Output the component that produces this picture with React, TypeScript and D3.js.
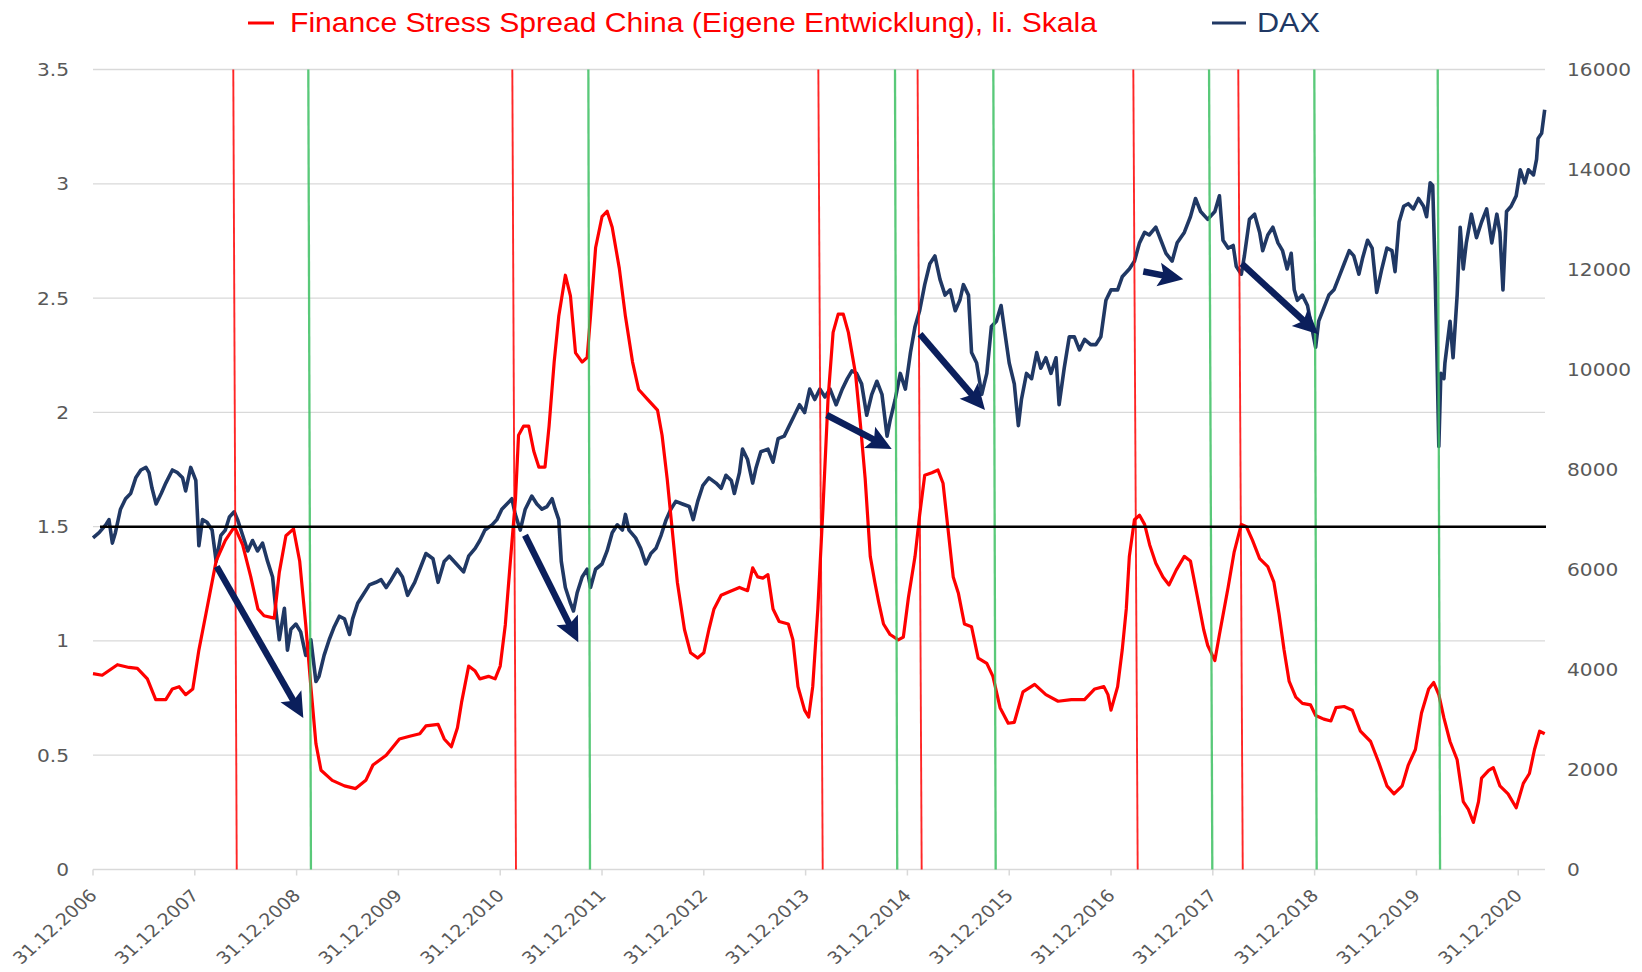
import React from "react";
import * as d3 from "d3";

// ---------- data (time in years since 31.12.2006) ----------
const leftTicks = [0, 0.5, 1, 1.5, 2, 2.5, 3, 3.5];
const rightTicks = [0, 2000, 4000, 6000, 8000, 10000, 12000, 14000, 16000];
const yearLabels = [2006, 2007, 2008, 2009, 2010, 2011, 2012, 2013, 2014, 2015, 2016, 2017, 2018, 2019, 2020];
const xEndYears = 14.263;
const threshold = 1.5;

const legendFss = "Finance Stress Spread China (Eigene Entwicklung), li. Skala";
const legendDax = "DAX";

// Finance Stress Spread China [years, value]
const fssSeries: [number, number][] = [
  [0.0, 0.857], [0.09, 0.85], [0.24, 0.896], [0.354, 0.884], [0.436, 0.88], [0.534, 0.834], [0.616, 0.743],
  [0.715, 0.743], [0.78, 0.79], [0.846, 0.8], [0.91, 0.765], [0.98, 0.79], [1.04, 0.96], [1.11, 1.12],
  [1.21, 1.35], [1.3, 1.44], [1.39, 1.5], [1.47, 1.42], [1.55, 1.28], [1.62, 1.14], [1.68, 1.11], [1.78, 1.1],
  [1.83, 1.3], [1.895, 1.46], [1.97, 1.49], [2.03, 1.35], [2.09, 1.07], [2.14, 0.8], [2.19, 0.55], [2.24, 0.434],
  [2.35, 0.39], [2.47, 0.366], [2.58, 0.354], [2.68, 0.39], [2.75, 0.457], [2.88, 0.5], [3.01, 0.571],
  [3.11, 0.583], [3.21, 0.594], [3.27, 0.628], [3.39, 0.635], [3.45, 0.571], [3.52, 0.537], [3.58, 0.62],
  [3.62, 0.73], [3.69, 0.89], [3.754, 0.868], [3.8, 0.834], [3.885, 0.845], [3.95, 0.834], [4.0, 0.89],
  [4.05, 1.07], [4.1, 1.35], [4.15, 1.62], [4.18, 1.9], [4.23, 1.94], [4.28, 1.94], [4.33, 1.83], [4.38, 1.76],
  [4.44, 1.76], [4.48, 1.94], [4.53, 2.22], [4.575, 2.42], [4.64, 2.6], [4.69, 2.51], [4.74, 2.26],
  [4.805, 2.22], [4.854, 2.24], [4.887, 2.42], [4.937, 2.72], [5.0, 2.856], [5.05, 2.88], [5.1, 2.81],
  [5.17, 2.63], [5.23, 2.42], [5.3, 2.22], [5.36, 2.1], [5.45, 2.056], [5.545, 2.01], [5.59, 1.9], [5.64, 1.71],
  [5.69, 1.485], [5.74, 1.257], [5.81, 1.05], [5.87, 0.948], [5.94, 0.925], [6.0, 0.948], [6.05, 1.05],
  [6.1, 1.14], [6.17, 1.2], [6.25, 1.215], [6.35, 1.234], [6.43, 1.22], [6.48, 1.32], [6.53, 1.28],
  [6.58, 1.275], [6.63, 1.29], [6.68, 1.14], [6.74, 1.085], [6.83, 1.074], [6.875, 1.005], [6.925, 0.8],
  [6.99, 0.697], [7.03, 0.667], [7.07, 0.8], [7.12, 1.14], [7.17, 1.576], [7.22, 2.056], [7.27, 2.35],
  [7.32, 2.43], [7.37, 2.43], [7.42, 2.35], [7.49, 2.17], [7.54, 1.94], [7.585, 1.71], [7.635, 1.37],
  [7.68, 1.257], [7.72, 1.165], [7.765, 1.074], [7.83, 1.028], [7.91, 1.005], [7.96, 1.017], [8.01, 1.19],
  [8.075, 1.37], [8.12, 1.55], [8.17, 1.725], [8.24, 1.736], [8.3, 1.748], [8.35, 1.69], [8.4, 1.485],
  [8.45, 1.28], [8.5, 1.21], [8.56, 1.074], [8.63, 1.062], [8.695, 0.925], [8.78, 0.902], [8.84, 0.845],
  [8.91, 0.708], [8.99, 0.64], [9.05, 0.644], [9.135, 0.777], [9.25, 0.81], [9.36, 0.765], [9.48, 0.736],
  [9.61, 0.743], [9.74, 0.743], [9.84, 0.79], [9.93, 0.8], [9.97, 0.765], [10.0, 0.697], [10.065, 0.8],
  [10.11, 0.96], [10.15, 1.14], [10.18, 1.37], [10.23, 1.53], [10.28, 1.55], [10.33, 1.51], [10.38, 1.42],
  [10.44, 1.34], [10.51, 1.28], [10.57, 1.245], [10.64, 1.31], [10.72, 1.37], [10.78, 1.35], [10.85, 1.19],
  [10.91, 1.05], [10.95, 0.98], [11.02, 0.914], [11.065, 1.028], [11.15, 1.234], [11.21, 1.39], [11.28, 1.51],
  [11.33, 1.5], [11.39, 1.44], [11.46, 1.36], [11.54, 1.325], [11.6, 1.257], [11.65, 1.12], [11.7, 0.96],
  [11.75, 0.823], [11.815, 0.754], [11.88, 0.727], [11.96, 0.72], [12.01, 0.674], [12.09, 0.658],
  [12.16, 0.65], [12.21, 0.708], [12.29, 0.713], [12.37, 0.697], [12.45, 0.605], [12.55, 0.56], [12.63, 0.468],
  [12.71, 0.366], [12.78, 0.331], [12.86, 0.366], [12.92, 0.457], [12.99, 0.525], [13.05, 0.685], [13.12, 0.79],
  [13.17, 0.818], [13.22, 0.765], [13.27, 0.663], [13.33, 0.56], [13.4, 0.48], [13.46, 0.297], [13.51, 0.263],
  [13.56, 0.206], [13.61, 0.297], [13.64, 0.4], [13.71, 0.434], [13.755, 0.446], [13.82, 0.366], [13.9, 0.331],
  [13.98, 0.27], [14.05, 0.377], [14.11, 0.42], [14.16, 0.525], [14.21, 0.605], [14.26, 0.594],
];

// DAX [years, points]
const daxSeries: [number, number][] = [
  [0.0, 6632], [0.06, 6736], [0.125, 6893], [0.157, 6997], [0.19, 6528], [0.22, 6736], [0.27, 7206],
  [0.32, 7415], [0.37, 7520], [0.42, 7833], [0.47, 7990], [0.52, 8042], [0.55, 7937], [0.58, 7624],
  [0.62, 7311], [0.67, 7520], [0.715, 7728], [0.78, 7990], [0.83, 7937], [0.88, 7833], [0.91, 7572],
  [0.96, 8042], [1.01, 7781], [1.04, 6475], [1.075, 6997], [1.12, 6945], [1.17, 6789], [1.21, 6162],
  [1.256, 6684], [1.3, 6789], [1.34, 7050], [1.387, 7154], [1.42, 6997], [1.47, 6684], [1.52, 6371],
  [1.567, 6580], [1.616, 6371], [1.665, 6528], [1.715, 6162], [1.764, 5849], [1.8, 5118], [1.83, 4595],
  [1.88, 5222], [1.91, 4386], [1.944, 4804], [1.993, 4909], [2.04, 4752], [2.09, 4282], [2.14, 4595],
  [2.19, 3760], [2.22, 3864], [2.27, 4282], [2.32, 4595], [2.37, 4856], [2.42, 5065], [2.47, 5013],
  [2.52, 4700], [2.55, 5013], [2.6, 5326], [2.65, 5483], [2.715, 5692], [2.78, 5744], [2.83, 5796],
  [2.88, 5640], [2.93, 5796], [2.99, 6005], [3.04, 5849], [3.09, 5483], [3.16, 5744], [3.21, 6005],
  [3.27, 6319], [3.34, 6214], [3.39, 5744], [3.45, 6162], [3.5, 6266], [3.57, 6110], [3.64, 5953],
  [3.69, 6266], [3.754, 6423], [3.8, 6580], [3.85, 6789], [3.92, 6893], [3.967, 6997], [4.016, 7206],
  [4.066, 7311], [4.115, 7415], [4.148, 7102], [4.197, 6789], [4.246, 7206], [4.31, 7468], [4.36, 7311],
  [4.41, 7206], [4.46, 7259], [4.51, 7415], [4.54, 7206], [4.575, 6997], [4.6, 6162], [4.64, 5640],
  [4.69, 5326], [4.72, 5170], [4.756, 5535], [4.805, 5849], [4.854, 6005], [4.887, 5640], [4.937, 6005],
  [5.0, 6110], [5.05, 6371], [5.1, 6736], [5.15, 6893], [5.2, 6789], [5.23, 7102], [5.265, 6789],
  [5.33, 6632], [5.38, 6423], [5.43, 6110], [5.48, 6319], [5.53, 6423], [5.58, 6684], [5.63, 6997],
  [5.676, 7206], [5.725, 7363], [5.79, 7311], [5.857, 7259], [5.896, 6997], [5.94, 7363], [5.99, 7676],
  [6.05, 7833], [6.12, 7728], [6.17, 7624], [6.218, 7885], [6.27, 7781], [6.3, 7520], [6.35, 7937],
  [6.38, 8407], [6.43, 8199], [6.48, 7728], [6.514, 8042], [6.56, 8355], [6.63, 8407], [6.68, 8146],
  [6.73, 8616], [6.79, 8668], [6.84, 8877], [6.89, 9086], [6.94, 9295], [6.99, 9139], [7.04, 9608],
  [7.09, 9400], [7.14, 9608], [7.19, 9452], [7.24, 9608], [7.3, 9295], [7.36, 9608], [7.41, 9817],
  [7.455, 9974], [7.5, 9922], [7.55, 9713], [7.6, 9086], [7.65, 9504], [7.7, 9765], [7.75, 9504],
  [7.8, 8668], [7.83, 8982], [7.88, 9400], [7.93, 9922], [7.98, 9608], [8.03, 10340], [8.075, 10862],
  [8.12, 11175], [8.17, 11697], [8.22, 12115], [8.27, 12272], [8.32, 11802], [8.37, 11488], [8.42, 11593],
  [8.47, 11175], [8.515, 11384], [8.55, 11697], [8.6, 11488], [8.63, 10340], [8.68, 10130], [8.73, 9504],
  [8.78, 9922], [8.825, 10862], [8.874, 10966], [8.92, 11280], [8.956, 10757], [9.0, 10130], [9.05, 9713],
  [9.09, 8877], [9.12, 9400], [9.17, 9922], [9.22, 9817], [9.27, 10340], [9.31, 10026], [9.36, 10235],
  [9.41, 9922], [9.46, 10235], [9.49, 9295], [9.54, 10026], [9.59, 10653], [9.64, 10653], [9.69, 10392],
  [9.74, 10601], [9.8, 10497], [9.85, 10497], [9.9, 10653], [9.95, 11384], [10.0, 11593], [10.065, 11593],
  [10.11, 11854], [10.18, 12011], [10.23, 12167], [10.28, 12533], [10.33, 12742], [10.375, 12690],
  [10.44, 12846], [10.49, 12585], [10.54, 12324], [10.6, 12167], [10.65, 12533], [10.72, 12742],
  [10.78, 13055], [10.83, 13420], [10.88, 13160], [10.95, 13003], [11.02, 13160], [11.065, 13473],
  [11.1, 12585], [11.15, 12428], [11.2, 12480], [11.23, 12063], [11.28, 11906], [11.31, 12272],
  [11.36, 13003], [11.41, 13107], [11.46, 12742], [11.49, 12376], [11.54, 12690], [11.59, 12846],
  [11.64, 12533], [11.685, 12376], [11.73, 12011], [11.77, 12324], [11.8, 11593], [11.83, 11384],
  [11.88, 11488], [11.93, 11280], [11.98, 10757], [12.01, 10444], [12.04, 10966], [12.09, 11227],
  [12.14, 11488], [12.19, 11593], [12.24, 11854], [12.29, 12115], [12.34, 12376], [12.385, 12272],
  [12.435, 11906], [12.47, 12219], [12.52, 12585], [12.565, 12428], [12.61, 11541], [12.66, 12011],
  [12.71, 12428], [12.76, 12376], [12.79, 11958], [12.83, 12950], [12.875, 13264], [12.92, 13316],
  [12.97, 13211], [13.02, 13420], [13.07, 13264], [13.1, 13055], [13.135, 13734], [13.16, 13681],
  [13.18, 12219], [13.2, 10444], [13.22, 8460], [13.24, 9922], [13.27, 9817], [13.28, 10130], [13.33, 10966],
  [13.36, 10235], [13.4, 11488], [13.43, 12846], [13.46, 12011], [13.49, 12533], [13.54, 13107],
  [13.59, 12637], [13.64, 12950], [13.69, 13211], [13.74, 12533], [13.79, 13107], [13.82, 12742],
  [13.85, 11593], [13.885, 13160], [13.93, 13264], [13.98, 13473], [14.02, 13995], [14.065, 13734],
  [14.1, 13995], [14.15, 13891], [14.18, 14204], [14.195, 14622], [14.23, 14726], [14.26, 15196],
];

// signal markers [years at top, years at bottom]
const stressSignals: [number, number][] = [
  [1.378, 1.412], [4.119, 4.155], [7.125, 7.168], [8.1, 8.14], [10.219, 10.262], [11.25, 11.294],
];
const reliefSignals: [number, number][] = [
  [2.115, 2.141], [4.866, 4.882], [7.878, 7.9], [8.844, 8.867], [10.963, 10.995], [11.997, 12.02], [13.209, 13.232],
];

// arrows [years start, DAX start, years end, DAX end]
const daxArrows: [number, number, number, number][] = [
  [1.215, 6060, 2.066, 3030],
  [4.244, 6686, 4.767, 4546],
  [7.207, 9090, 7.846, 8410],
  [8.124, 10706, 8.762, 9192],
  [10.317, 11960, 10.71, 11804],
  [11.284, 12116, 12.036, 10706],
];

// ---------- helpers ----------
const base = new Date(2006, 11, 31);
const toDate = (t: number) => new Date(base.getTime() + t * 365.25 * 864e5);

const RED = "#FF0000";
const NAVY = "#203864";
const ARROW = "#0B1F5C";
const GRID = "#D9D9D9";
const LABEL = "#595959";
const GREEN = "#3CC062";

export default function App() {
  const x = d3.scaleTime().domain([toDate(0), toDate(xEndYears)]).range([93, 1545]);
  const yL = d3.scaleLinear().domain([0, 3.5]).range([869.5, 69.5]);
  const yR = d3.scaleLinear().domain([0, 16000]).range([869.5, 69.5]);

  const fssLine = d3
    .line<[number, number]>()
    .x((d) => x(toDate(d[0])))
    .y((d) => yL(d[1]));
  const daxLine = d3
    .line<[number, number]>()
    .x((d) => x(toDate(d[0])))
    .y((d) => yR(d[1]));

  const x0 = x.range()[0];
  const x1 = x.range()[1];
  const yTop = yL(3.5);
  const yBot = yL(0);

  const arrowShapes = daxArrows.map(([t1, v1, t2, v2], i) => {
    const ax = x(toDate(t1));
    const ay = yR(v1);
    const bx = x(toDate(t2));
    const by = yR(v2);
    const dx = bx - ax;
    const dy = by - ay;
    const len = Math.hypot(dx, dy);
    const ux = dx / len;
    const uy = dy / len;
    const px = -uy;
    const py = ux;
    const headLen = 25;
    const headW = 12;
    const notch = 5;
    const hbx = bx - ux * headLen;
    const hby = by - uy * headLen;
    const head = [
      [bx, by],
      [hbx + px * headW, hby + py * headW],
      [hbx + ux * notch, hby + uy * notch],
      [hbx - px * headW, hby - py * headW],
    ]
      .map((p) => p.join(","))
      .join(" ");
    return (
      <g key={i}>
        <line
          x1={ax}
          y1={ay}
          x2={hbx + ux * (notch + 2)}
          y2={hby + uy * (notch + 2)}
          stroke={ARROW}
          strokeWidth={6.5}
        />
        <polygon points={head} fill={ARROW} />
      </g>
    );
  });

  const tickFont = "'DejaVu Sans', sans-serif";
  const stretch = 1.12;

  return (
    <svg
      width={1642}
      height={972}
      style={{ position: "absolute", left: 0, top: 0, background: "#fff" }}
    >
      <rect x={0} y={0} width={1642} height={972} fill="#fff" />
      {/* gridlines */}
      {leftTicks
        .filter((v) => v > 0)
        .map((v) => (
          <line key={v} x1={x0} x2={x1} y1={yL(v)} y2={yL(v)} stroke={GRID} strokeWidth={1.3} />
        ))}
      {/* x axis */}
      <line x1={x0} x2={x1} y1={yBot} y2={yBot} stroke={GRID} strokeWidth={1.5} />
      {yearLabels.map((yr, i) => {
        const xx = x(toDate(i));
        return (
          <g key={yr}>
            <line x1={xx} x2={xx} y1={yBot} y2={yBot + 6} stroke={GRID} strokeWidth={1.5} />
            <text
              transform={`translate(${xx + 5},${yBot + 27}) scale(${stretch},1) rotate(-45)`}
              textAnchor="end"
              fontFamily={tickFont}
              fontSize={17}
              fill={LABEL}
            >
              {`31.12.${yr}`}
            </text>
          </g>
        );
      })}
      {/* left labels */}
      {leftTicks.map((v) => (
        <text
          key={v}
          transform={`translate(69,${yL(v)}) scale(${stretch},1)`}
          dy="0.36em"
          textAnchor="end"
          fontFamily={tickFont}
          fontSize={18}
          fill={LABEL}
        >
          {String(v)}
        </text>
      ))}
      {/* right labels */}
      {rightTicks.map((v) => (
        <text
          key={v}
          transform={`translate(1567,${yR(v)}) scale(${stretch},1)`}
          dy="0.36em"
          textAnchor="start"
          fontFamily={tickFont}
          fontSize={18}
          fill={LABEL}
        >
          {String(v)}
        </text>
      ))}
      {/* DAX */}
      <path d={daxLine(daxSeries) || ""} fill="none" stroke={NAVY} strokeWidth={3.6} strokeLinejoin="round" />
      {/* FSS */}
      <path d={fssLine(fssSeries) || ""} fill="none" stroke={RED} strokeWidth={3.2} strokeLinejoin="round" />
      {/* signal lines */}
      {stressSignals.map(([a, b], i) => (
        <line
          key={"s" + i}
          x1={x(toDate(a))}
          y1={yTop}
          x2={x(toDate(b))}
          y2={yBot}
          stroke={RED}
          strokeOpacity={0.85}
          strokeWidth={1.9}
        />
      ))}
      {reliefSignals.map(([a, b], i) => (
        <line
          key={"r" + i}
          x1={x(toDate(a))}
          y1={yTop}
          x2={x(toDate(b))}
          y2={yBot}
          stroke={GREEN}
          strokeOpacity={0.85}
          strokeWidth={2.3}
        />
      ))}
      {/* threshold */}
      <line x1={x0 + 7} x2={x1 + 1} y1={yL(threshold)} y2={yL(threshold)} stroke="#000" strokeWidth={2.5} />
      {/* arrows */}
      {arrowShapes}
      {/* legend */}
      <line x1={248} x2={274} y1={23} y2={23} stroke={RED} strokeWidth={3} />
      <text
        x={290}
        y={32}
        fontFamily="'Liberation Sans', Arial, sans-serif"
        fontSize={28}
        fill={RED}
        textLength={807}
        lengthAdjust="spacingAndGlyphs"
      >
        {legendFss}
      </text>
      <line x1={1212} x2={1246} y1={23} y2={23} stroke={NAVY} strokeWidth={3} />
      <text
        x={1257}
        y={32}
        fontFamily="'Liberation Sans', Arial, sans-serif"
        fontSize={28}
        fill={NAVY}
        textLength={63}
        lengthAdjust="spacingAndGlyphs"
      >
        {legendDax}
      </text>
    </svg>
  );
}
